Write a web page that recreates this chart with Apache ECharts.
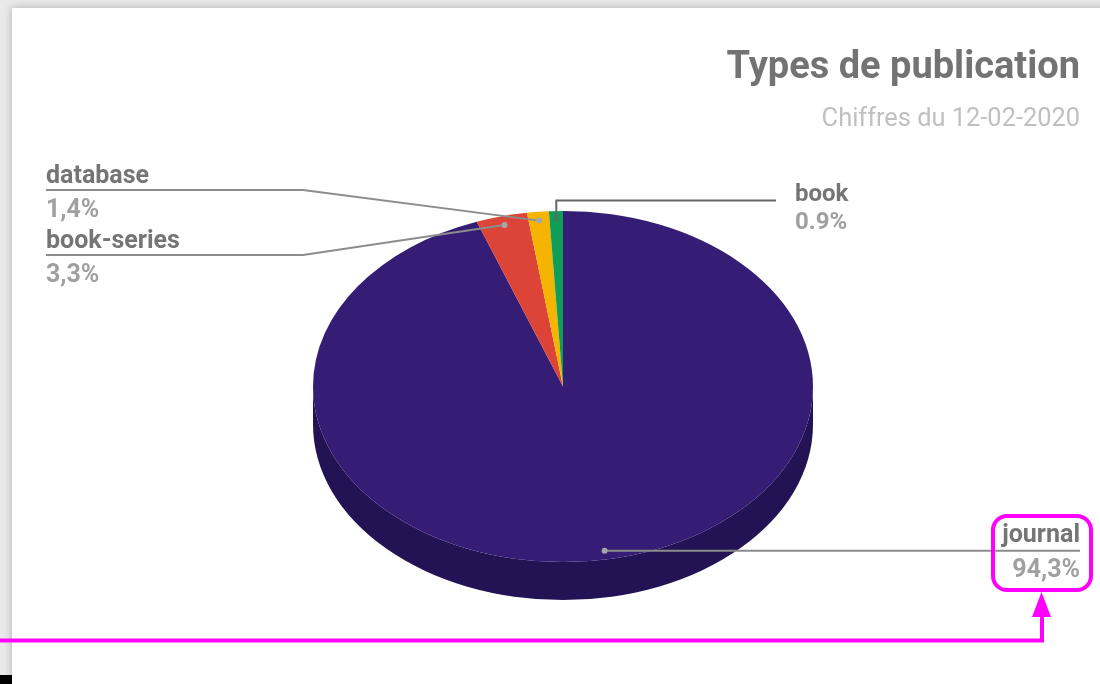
<!DOCTYPE html>
<html>
<head>
<meta charset="utf-8">
<style>html,body{margin:0;padding:0;background:#e9e9e9}#c{width:1100px;height:684px}</style>
<script src="https://cdn.jsdelivr.net/npm/echarts@6/dist/echarts.min.js"></script>
</head>
<body>
<div id="c"></div>
<script>
// Data (clockwise from 12 o'clock)
const categories = ['journal', 'book-series', 'database', 'book'];
const values = [94.3, 3.3, 1.4, 0.9];
const valueLabels = ['94,3%', '3,3%', '1,4%', '0.9%'];
const sliceColors = ['#351c75', '#db4437', '#f4b400', '#0f9d58'];
const titleText = 'Types de publication';
const subtitleText = 'Chiffres du 12-02-2020';

// Layout (ellipse geometry and label placement)
const CX = 563, CY = 386.5, RX = 250, RY = 175.5, DEPTH = 38, ANCHOR = 0.95;
const WALL = '#231354';
const labelLayout = [
  { x: 1080, nameY: 536, valueY: 571, size: 25, align: 'right', elbow: [1080, null], lineEnd: [1080, null], color: '#8c8c8c' },
  { x: 46, nameY: 242, valueY: 276, size: 25, align: 'left', elbow: [303, 255], lineEnd: [46, 255], color: '#8c8c8c' },
  { x: 46, nameY: 177, valueY: 211, size: 25, align: 'left', elbow: [303, 190], lineEnd: [46, 190], color: '#8c8c8c' },
  { x: 795, nameY: 195, valueY: 223, size: 24, align: 'left', elbow: [null, 200.5], lineEnd: [776, 200.5], color: '#666666' }
];

const total = values.reduce((a, b) => a + b, 0);
function startFraction(i) {
  let s = 0;
  for (let k = 0; k < i; k++) s += values[k];
  return s / total;
}

function renderSlice(params, api) {
  const i = params.dataIndex;
  const a0 = -Math.PI / 2 + startFraction(i) * 2 * Math.PI;
  const a1 = a0 + api.value(1) / total * 2 * Math.PI;
  const children = [];
  if (i === 0) {
    children.push({
      type: 'path',
      shape: {
        pathData: `M ${CX + RX} ${CY} A ${RX} ${RY} 0 0 1 ${CX - RX} ${CY} L ${CX - RX} ${CY + DEPTH} A ${RX} ${RY} 0 0 0 ${CX + RX} ${CY + DEPTH} Z`
      },
      style: { fill: WALL }
    });
  }
  children.push({
    type: 'sector',
    x: CX, y: CY, scaleY: RY / RX,
    shape: { cx: 0, cy: 0, r0: 0, r: RX, startAngle: a0, endAngle: a1, clockwise: true },
    style: { fill: sliceColors[i] }
  });
  return { type: 'group', children };
}

function renderLabel(params, api) {
  const i = params.dataIndex;
  const mid = (startFraction(i) + api.value(1) / total / 2) * 2 * Math.PI;
  const dx = CX + Math.sin(mid) * RX * ANCHOR;
  const dy = CY - Math.cos(mid) * RY * ANCHOR;
  const L = labelLayout[i];
  const elbow = [L.elbow[0] == null ? dx : L.elbow[0], L.elbow[1] == null ? dy : L.elbow[1]];
  const end = [L.lineEnd[0], L.lineEnd[1] == null ? dy : L.lineEnd[1]];
  const font = 'bold ' + L.size + 'px Roboto';
  return {
    type: 'group',
    children: [
      { type: 'polyline', shape: { points: [[dx, dy], elbow, end] },
        style: { fill: 'none', stroke: L.color, lineWidth: 2 } },
      { type: 'circle', shape: { cx: dx, cy: dy, r: i === 3 ? 1.5 : 3 },
        style: { fill: i === 3 ? '#666666' : '#a6a6a6' } },
      { type: 'text', x: L.x, y: L.nameY,
        style: { text: api.value(0), fill: '#757575', font: font, align: L.align, verticalAlign: 'middle' } },
      { type: 'text', x: L.x, y: L.valueY,
        style: { text: valueLabels[i], fill: '#a0a0a0', font: font, align: L.align, verticalAlign: 'middle' } }
    ]
  };
}

const seriesData = categories.map((c, i) => [c, values[i]]);
const chart = echarts.init(document.getElementById('c'), null, { renderer: 'canvas' });
chart.setOption({
  animation: false,
  backgroundColor: '#e9e9e9',
  title: {
    text: titleText, subtext: subtitleText,
    left: 1080, top: 49, textAlign: 'right', itemGap: 20, padding: 0,
    textStyle: { fontFamily: 'Roboto', fontSize: 38, fontWeight: 'bold', color: '#737373' },
    subtextStyle: { fontFamily: 'Roboto', fontSize: 25.4, color: '#c0c0c0' }
  },
  tooltip: { show: false },
  graphic: [
    { type: 'rect', z: -10, shape: { x: 12, y: 8, width: 1100, height: 700 },
      style: { fill: '#ffffff', shadowBlur: 8, shadowColor: 'rgba(0,0,0,0.25)' }, silent: true },
    { type: 'rect', z: -9, shape: { x: 0, y: 675, width: 12, height: 9 }, style: { fill: '#000000' }, silent: true },
    { type: 'rect', z: 100, shape: { x: 993, y: 516, width: 98, height: 74, r: 14 },
      style: { fill: 'none', stroke: '#ff00ff', lineWidth: 4 }, silent: true },
    { type: 'polyline', z: 100, shape: { points: [[0, 640.5], [1042, 640.5], [1042, 612]] },
      style: { fill: 'none', stroke: '#ff00ff', lineWidth: 4 }, silent: true },
    { type: 'polygon', z: 100, shape: { points: [[1041.5, 592], [1051, 617], [1032, 617]] },
      style: { fill: '#ff00ff' }, silent: true }
  ],
  series: [
    { type: 'custom', coordinateSystem: 'none', name: 'slices', data: seriesData, renderItem: renderSlice, silent: true, z: 2 },
    { type: 'custom', coordinateSystem: 'none', name: 'labels', data: seriesData, renderItem: renderLabel, silent: true, z: 3 }
  ]
});
</script>
</body>
</html>
